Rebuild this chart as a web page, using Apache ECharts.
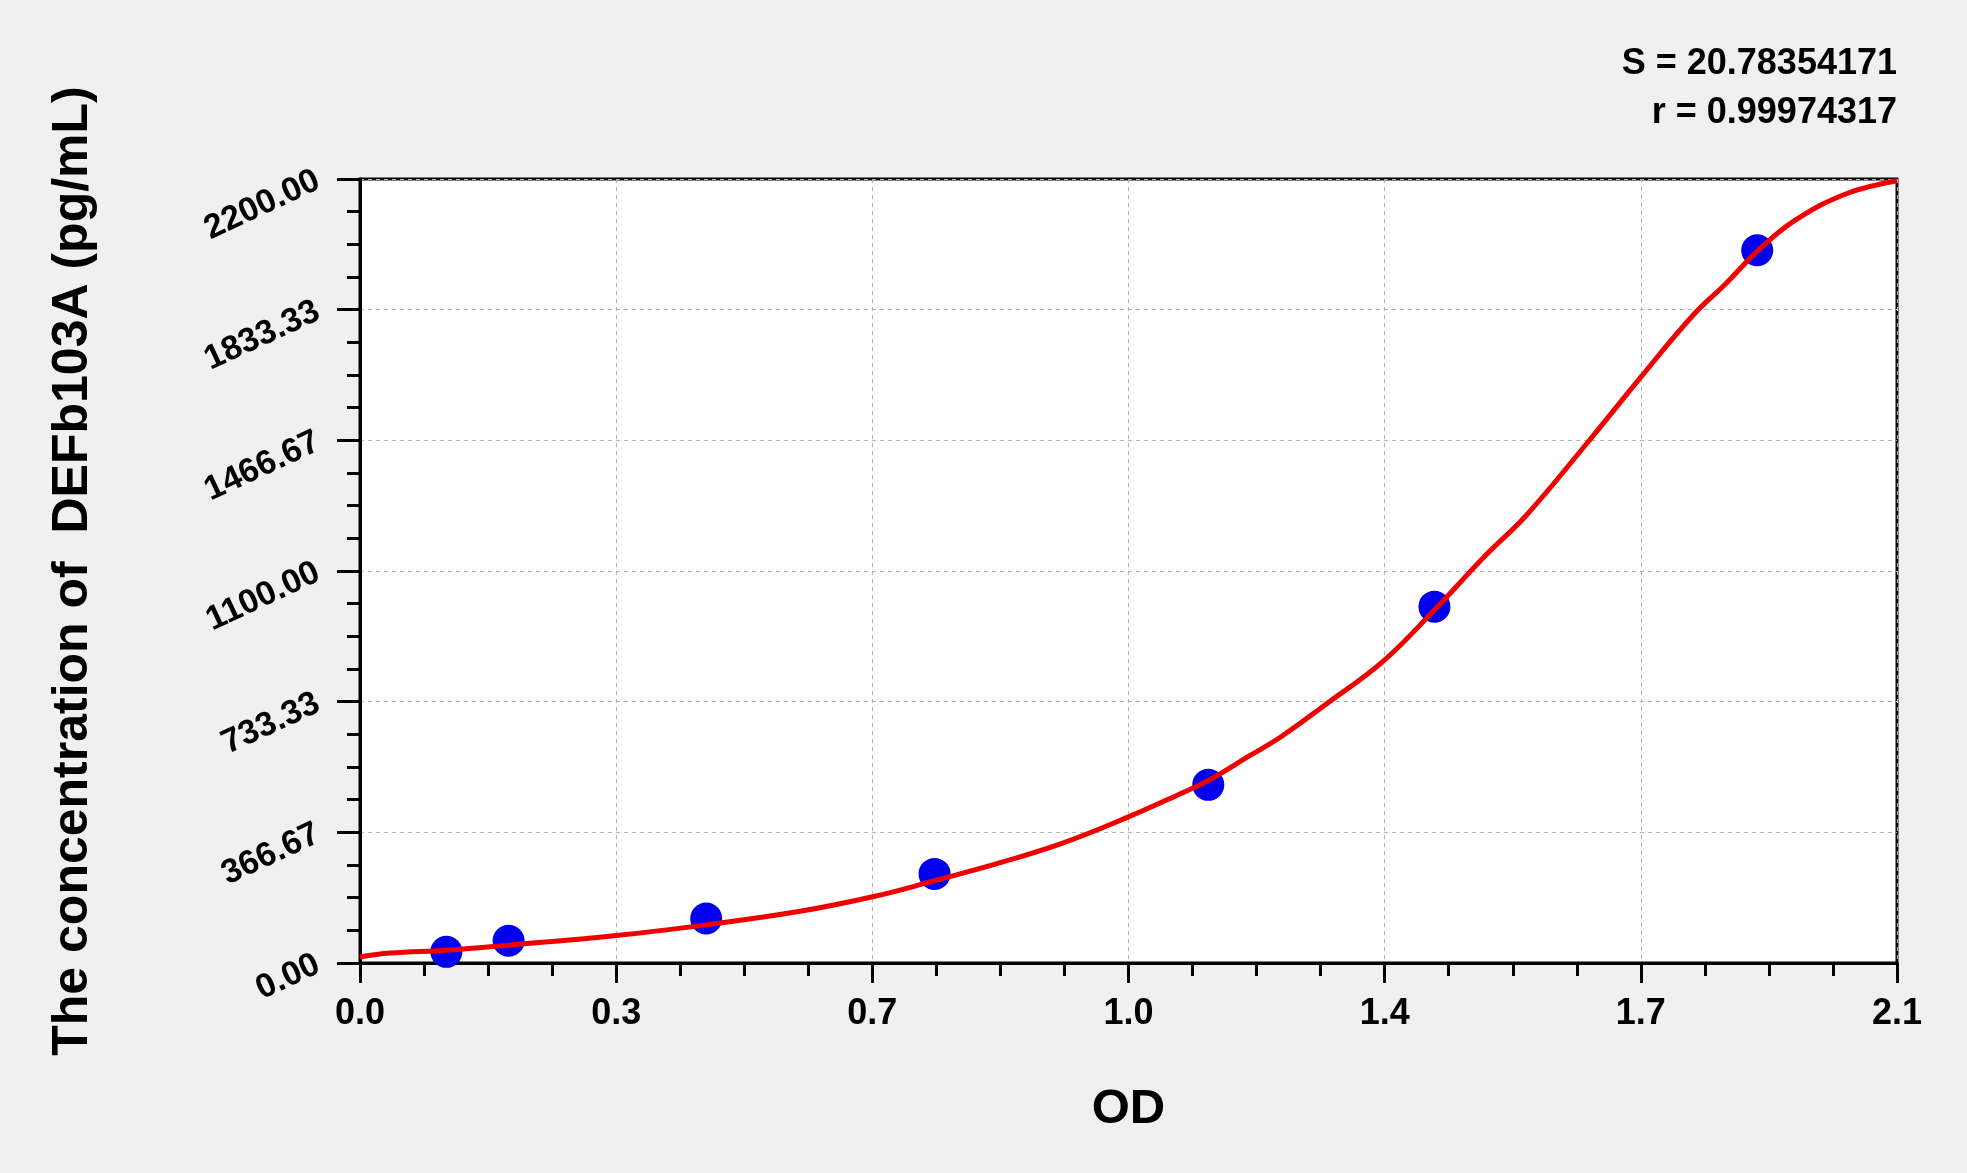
<!DOCTYPE html>
<html>
<head>
<meta charset="utf-8">
<script src="https://cdn.jsdelivr.net/npm/echarts@6/dist/echarts.min.js"></script>
<style>
html,body{margin:0;padding:0;background:#f0f0f0;}
#chart{width:1967px;height:1173px;}
</style>
</head>
<body>
<div id="chart"></div>
<script>
// Standard points (OD vs concentration)
var stdOD   = [0.118, 0.203, 0.473, 0.785, 1.159, 1.468, 1.909];
var stdConc = [31.25, 62.5, 125, 250, 500, 1000, 2000];

// Fitted curve
var curveOD   = [0, 0.041, 0.118, 0.203, 0.35, 0.473, 0.601, 0.705, 0.785, 0.869, 0.958, 1.05, 1.124, 1.159, 1.215, 1.26, 1.319, 1.397, 1.465, 1.538, 1.593, 1.675, 1.75, 1.821, 1.866, 1.909, 1.96, 2.03, 2.1];
var curveConc = [17, 28, 36, 50, 77, 107, 145, 188, 231, 278, 335, 410, 478, 512, 581, 637, 725, 845, 984, 1144, 1255, 1455, 1644, 1817, 1906, 1997, 2083, 2158, 2195];

// Tick labels
var xTickLabels = ['0.0', '0.3', '0.7', '1.0', '1.4', '1.7', '2.1'];
var yTickLabels = ['0.00', '366.67', '733.33', '1100.00', '1466.67', '1833.33', '2200.00'];

var statLines = ['S = 20.78354171', 'r = 0.99974317'];
var xTitle = 'OD';
var yTitle = 'The concentration of  DEFb103A (pg/mL)';

var xStep = 0.35, xMax = 2.1;
var yMax = 2200, yStep = yMax / 6;

var FONT = '"Liberation Sans", Arial, sans-serif';

function pairs(a, b) { return a.map(function (v, i) { return [v, b[i]]; }); }

var chart = echarts.init(document.getElementById('chart'), null, {renderer: 'canvas'});
chart.setOption({
  backgroundColor: '#f0f0f0',
  animation: false,
  grid: {
    left: 360, right: 70, top: 179, bottom: 210,
    show: true, backgroundColor: '#ffffff', borderColor: '#000', borderWidth: 3
  },
  graphic: [
    {type: 'text', x: 1897, y: 64, style: {text: statLines[0], align: 'right', verticalAlign: 'middle', font: 'bold 36px ' + FONT, fill: '#000'}},
    {type: 'text', x: 1897, y: 113, style: {text: statLines[1], align: 'right', verticalAlign: 'middle', font: 'bold 36px ' + FONT, fill: '#000'}}
  ],
  xAxis: {
    type: 'value', min: 0, max: xMax, interval: xStep,
    name: xTitle, nameLocation: 'middle', nameGap: 122,
    nameTextStyle: {fontFamily: FONT, fontWeight: 'bold', fontSize: 49, color: '#000'},
    axisLine: {show: true, onZero: false, lineStyle: {color: '#000', width: 3}},
    axisTick: {show: true, inside: false, length: 20, lineStyle: {color: '#000', width: 3}},
    minorTick: {show: true, splitNumber: 4, length: 13, lineStyle: {color: '#000', width: 3}},
    splitLine: {show: true, lineStyle: {color: '#b4b4b4', type: [4, 4], width: 1}},
    axisLabel: {
      margin: 33, fontFamily: FONT, fontWeight: 'bold', fontSize: 36, color: '#000',
      formatter: function (v) { return xTickLabels[Math.round(v / xStep)]; }
    }
  },
  yAxis: {
    type: 'value', min: 0, max: yMax, interval: yStep,
    name: yTitle, nameLocation: 'middle', nameGap: 262,
    nameTextStyle: {fontFamily: FONT, fontWeight: 'bold', fontSize: 50, color: '#000'},
    axisLine: {show: true, onZero: false, lineStyle: {color: '#000', width: 3}},
    axisTick: {show: true, inside: false, length: 23, lineStyle: {color: '#000', width: 3}},
    minorTick: {show: true, splitNumber: 4, length: 13, lineStyle: {color: '#000', width: 3}},
    splitLine: {show: true, lineStyle: {color: '#b4b4b4', type: [4, 4], width: 1}},
    axisLabel: {
      margin: 42, rotate: 25, fontFamily: FONT, fontWeight: 'bold', fontSize: 34, color: '#000',
      formatter: function (v) { return yTickLabels[Math.round(v / yStep)]; }
    }
  },
  series: [
    {
      type: 'scatter', data: pairs(stdOD, stdConc), symbol: 'circle', symbolSize: 32,
      itemStyle: {color: '#0000ee', opacity: 1}, z: 2
    },
    {
      type: 'line', data: pairs(curveOD, curveConc), smooth: 0.4, showSymbol: false,
      lineStyle: {color: '#f00000', width: 5}, z: 3
    }
  ]
});
</script>
</body>
</html>
